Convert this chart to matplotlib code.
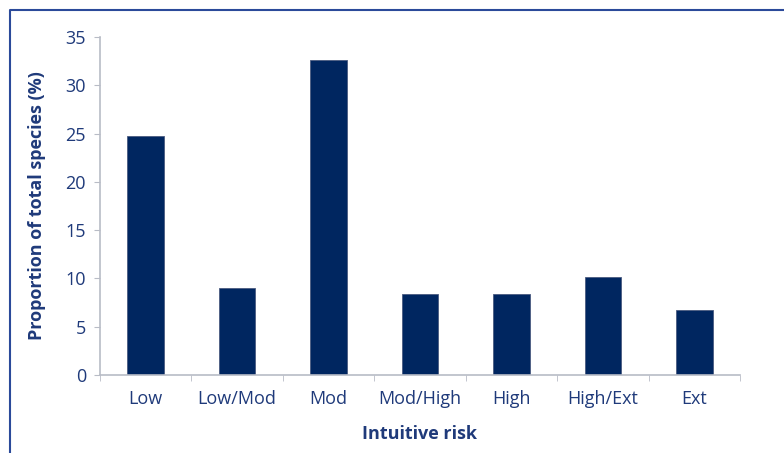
import matplotlib
matplotlib.use("Agg")
import matplotlib.pyplot as plt
from matplotlib.lines import Line2D

categories = ["Low", "Low/Mod", "Mod", "Mod/High", "High", "High/Ext", "Ext"]
values = [24.75, 9.0, 32.6, 8.4, 8.4, 10.15, 6.7]

bar_color = "#002660"
text_color = "#1f3a7a"
axis_color = "#b8bcc6"

plt.rcParams["font.family"] = ["Open Sans", "DejaVu Sans"]

fig = plt.figure(figsize=(7.84, 4.53), dpi=100)
ax = fig.add_axes([100 / 784, 1 - 375 / 453, 640 / 784, 338 / 453])

x = list(range(len(categories)))
ax.bar(x, values, width=0.4, color=bar_color, edgecolor="#4a5a80", linewidth=0.6)

ax.set_xlim(-0.5, len(categories) - 0.5)
ax.set_ylim(0, 35)
ax.set_yticks(range(0, 36, 5))

# category labels centred, tick marks between categories
ax.set_xticks(x)
ax.set_xticklabels(categories)
ax.tick_params(axis="x", length=0, pad=11, labelsize=13, labelcolor=text_color)
ax.set_xticks([i - 0.5 for i in range(len(categories) + 1)], minor=True)
ax.tick_params(axis="x", which="minor", length=4, color=axis_color, direction="out")
ax.tick_params(axis="y", length=4, color=axis_color, labelsize=13,
               labelcolor=text_color, pad=6)

for side in ["top", "right"]:
    ax.spines[side].set_visible(False)
for side in ["left", "bottom"]:
    ax.spines[side].set_color(axis_color)
    ax.spines[side].set_linewidth(1.2)

ax.set_xlabel("Intuitive risk", fontsize=13, fontweight="bold", color=text_color, labelpad=12)
ax.set_ylabel("Proportion of total species (%)", fontsize=13, fontweight="bold",
              color=text_color, labelpad=14)

# frame of the figure panel
fig.add_artist(Line2D([10 / 784, 10 / 784, 1.0], [0.0, 1 - 10 / 453, 1 - 10 / 453],
                      transform=fig.transFigure, color="#2b4a9a", linewidth=1.5))

fig.savefig("out.png", dpi=100)
